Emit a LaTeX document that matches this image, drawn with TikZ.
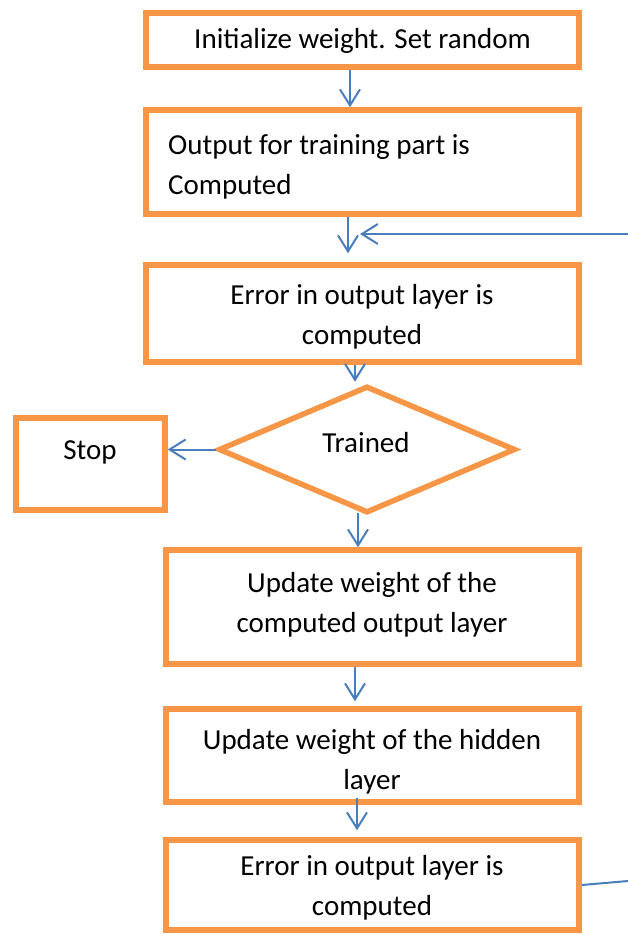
\documentclass[tikz,border=0pt]{standalone}
\usepackage{fontspec}
\setmainfont{Carlito}
\usetikzlibrary{arrows.meta,shapes.geometric}
\definecolor{boxorange}{HTML}{F79646}
\definecolor{arrowblue}{HTML}{4A7EBB}
\begin{document}
\begin{tikzpicture}[x=1pt,y=-1pt,
  box/.style={draw=boxorange, line width=5.5pt, rectangle, inner sep=0pt},
  dia/.style={draw=boxorange, line width=5.5pt, diamond, inner sep=0pt},
  lbl/.style={font=\fontsize{29}{40}\selectfont, inner sep=0pt, align=center},
  flow/.style={draw=arrowblue, line width=2pt, -{Straight Barb[length=16pt,width=20pt]}},
  link/.style={draw=arrowblue, line width=2pt}]
\useasboundingbox[fill=white] (0,0) rectangle (628,934);
% boxes
\node[box, minimum width=433pt, minimum height=54pt] (init) at (362.5,40) {};
\node[box, minimum width=433pt, minimum height=104pt] (out) at (362.5,162) {};
\node[box, minimum width=433pt, minimum height=97pt] (err1) at (362.5,313.5) {};
\node[dia, minimum width=297pt, minimum height=127pt] (trained) at (367,449.5) {};
\node[box, minimum width=149pt, minimum height=92pt] (stop) at (90.5,464) {};
\node[box, minimum width=413pt, minimum height=114pt] (upd1) at (372.5,607) {};
\node[box, minimum width=413pt, minimum height=93pt] (upd2) at (372.5,755.5) {};
\node[box, minimum width=413pt, minimum height=90pt] (err2) at (372.5,885) {};
% texts
\node[lbl] (tinit) at (362.5,41) {Initialize weight. Set random};
\node[lbl, align=left, anchor=west] (tout) at (168,167) {Output for training part is\\Computed};
\node[lbl] (terr1) at (362,317) {Error in output layer is\\computed};
\node[lbl] (ttrained) at (366,443) {Trained};
\node[lbl] (tstop) at (90,452) {Stop};
\node[lbl] (tupd1) at (372,605) {Update weight of the\\computed output layer};
\node[lbl] (tupd2) at (372,762) {Update weight of the hidden\\layer};
\node[lbl] (terr2) at (372,888) {Error in output layer is\\computed};
% connectors
\coordinate (fbin) at (628,234);
\coordinate (fbtip) at (360,234);
\coordinate (fbout) at (628,881);
\draw[flow] ([xshift=-12.5pt]init.south) -- ([xshift=-12.5pt]out.north);
\draw[flow] ([xshift=-14.5pt]out.south) -- ([xshift=-14.5pt,yshift=9pt]err1.north);
\draw[flow] (fbin) -- (fbtip);
\draw[flow] ([xshift=-7.5pt]err1.south) -- ++(0,17);
\draw[flow] (trained.west) -- (trained.west -| stop.east);
\draw[flow] ([xshift=-9pt,yshift=3pt]trained.south) -- ([xshift=-14.5pt]upd1.north);
\draw[flow] ([xshift=-17.5pt]upd1.south) -- ([xshift=-17.5pt,yshift=5pt]upd2.north);
\draw[flow] ([xshift=-15.5pt,yshift=7pt]upd2.south) -- ([xshift=-15.5pt,yshift=7pt]err2.north);
\draw[link] (err2.east) -- (fbout);
\end{tikzpicture}
\end{document}
